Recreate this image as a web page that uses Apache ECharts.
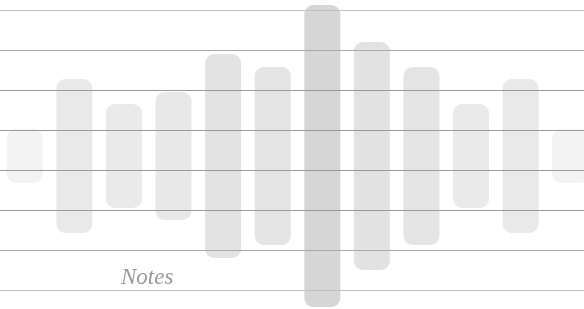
<!DOCTYPE html>
<html>
<head>
<meta charset="utf-8">
<script src="https://cdn.jsdelivr.net/npm/echarts@6/dist/echarts.min.js"></script>
<style>
  html, body { margin: 0; padding: 0; background: #fff; }
  #chart { width: 584px; height: 309px; }
</style>
</head>
<body>
<div id="chart"></div>
<script>
  // waveform: half height of each bar around the centre line
  const categories = ['1', '2', '3', '4', '5', '6', '7', '8', '9', '10', '11', '12']
  const amplitudes = [27, 77, 52, 64, 102, 89, 151, 114, 89, 52, 77, 27]
  // grey shade per bar
  const shades = ['#f3f3f3', '#e9e9e9', '#eaeaea', '#e8e8e8', '#e3e3e3', '#e4e4e4',
    '#d6d6d6', '#e2e2e2', '#e4e4e4', '#eaeaea', '#e9e9e9', '#f3f3f3']
  const ruleColors = ['#c2c2c2', '#a9a9a9', '#9a9a9a', '#9a9a9a', '#9a9a9a', '#9a9a9a', '#a9a9a9', '#c2c2c2']
  const noteText = 'Notes'

  const radius = 9

  function half(values, sign, corners) {
    return values.map((v, i) => ({
      value: v * sign,
      itemStyle: { color: shades[i], borderRadius: corners }
    }))
  }

  const myChart = echarts.init(document.getElementById('chart'))
  myChart.setOption({
    animation: false,
    grid: [
      // wider than the canvas so the last bar runs off the right edge
      { left: 0, width: 595, top: 0, bottom: 0, outerBoundsMode: 'none', containLabel: false },
      { left: 0, right: 0, top: 10, height: 280 }
    ],
    xAxis: [
      {
        type: 'category',
        data: categories,
        show: false
      },
      { type: 'value', gridIndex: 1, min: 0, max: 1, show: false }
    ],
    yAxis: [
      {
        type: 'value',
        min: -153,
        max: 156,
        show: false
      },
      {
        type: 'value',
        gridIndex: 1,
        min: 0,
        max: 280,
        interval: 40,
        z: 5,
        axisLine: { show: false },
        axisTick: { show: false },
        axisLabel: { show: false },
        splitLine: {
          show: true,
          lineStyle: { color: ruleColors, width: 1 }
        }
      }
    ],
    series: [
      {
        type: 'bar',
        barWidth: 36,
        barGap: '-100%',
        clip: false,
        data: half(amplitudes, 1, [radius, radius, 0, 0])
      },
      {
        type: 'bar',
        barWidth: 36,
        barGap: '-100%',
        clip: false,
        data: half(amplitudes, -1, [0, 0, radius, radius])
      }
    ],
    graphic: [
      {
        type: 'text',
        left: 121,
        top: 266,
        z: 20,
        style: {
          text: noteText,
          font: 'italic 23px "Liberation Serif", serif',
          fill: '#999999'
        }
      }
    ]
  })
</script>
</body>
</html>
